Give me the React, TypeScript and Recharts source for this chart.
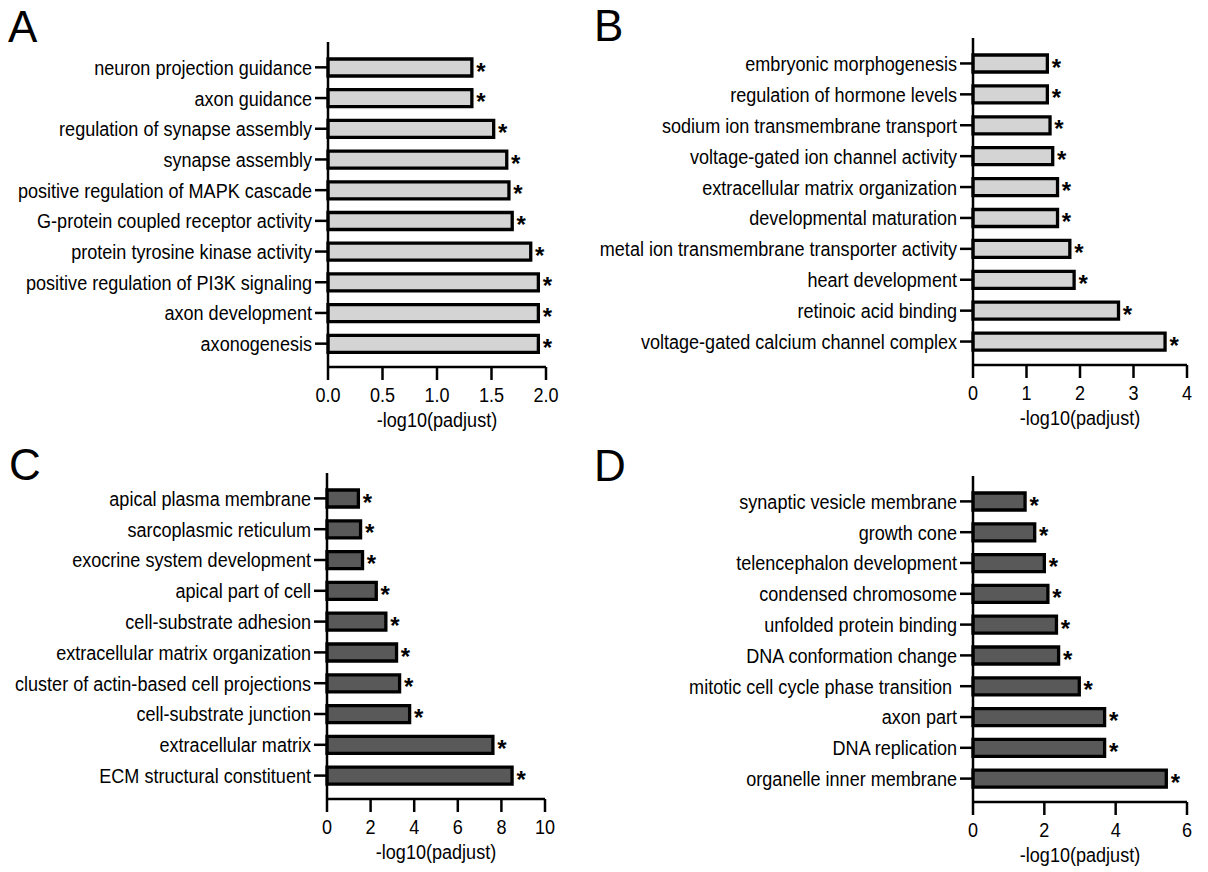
import React from "react";
import { BarChart, Bar, XAxis, YAxis, LabelList, Label } from "recharts";

const FONT = "'Liberation Sans', Arial, sans-serif";
const FONT_SIZE = 21;
const SQUEEZE = 0.86;

// Panel A - light bars
const termsA = [
  "neuron projection guidance",
  "axon guidance",
  "regulation of synapse assembly",
  "synapse assembly",
  "positive regulation of MAPK cascade",
  "G-protein coupled receptor activity",
  "protein tyrosine kinase activity",
  "positive regulation of PI3K signaling",
  "axon development",
  "axonogenesis",
];
const valuesA = [1.32, 1.32, 1.52, 1.64, 1.66, 1.69, 1.86, 1.93, 1.93, 1.93];
const ticksA = [0, 0.5, 1, 1.5, 2];

// Panel B - light bars
const termsB = [
  "embryonic morphogenesis",
  "regulation of hormone levels",
  "sodium ion transmembrane transport",
  "voltage-gated ion channel activity",
  "extracellular matrix organization",
  "developmental maturation",
  "metal ion transmembrane transporter activity",
  "heart development",
  "retinoic acid binding",
  "voltage-gated calcium channel complex",
];
const valuesB = [1.39, 1.39, 1.44, 1.49, 1.58, 1.58, 1.81, 1.89, 2.72, 3.59];
const ticksB = [0, 1, 2, 3, 4];

// Panel C - dark bars
const termsC = [
  "apical plasma membrane",
  "sarcoplasmic reticulum",
  "exocrine system development",
  "apical part of cell",
  "cell-substrate adhesion",
  "extracellular matrix organization",
  "cluster of actin-based cell projections",
  "cell-substrate junction",
  "extracellular matrix",
  "ECM structural constituent",
];
const valuesC = [1.44, 1.54, 1.63, 2.26, 2.7, 3.19, 3.33, 3.79, 7.61, 8.49];
const ticksC = [0, 2, 4, 6, 8, 10];

// Panel D - dark bars
const termsD = [
  "synaptic vesicle membrane",
  "growth cone",
  "telencephalon development",
  "condensed chromosome",
  "unfolded protein binding",
  "DNA conformation change",
  "mitotic cell cycle phase transition ",
  "axon part",
  "DNA replication",
  "organelle inner membrane",
];
const valuesD = [1.46, 1.73, 2.0, 2.1, 2.34, 2.4, 2.98, 3.69, 3.69, 5.42];
const ticksD = [0, 2, 4, 6];

const LIGHT = "#d4d4d4";
const DARK = "#595959";

type PanelProps = {
  terms: string[];
  values: number[];
  ticks: number[];
  decimals: number;
  fill: string;
  left: number;
  top: number;
  width: number;
  marginTop: number;
  yAxisWidth: number;
  plotWidth: number;
  plotHeight: number;
};

// narrow-looking Arial text, like the original figure
const NarrowText = ({ x, y, dy, anchor, children }: any) => (
  <text
    transform={`translate(${x} ${y}) scale(${SQUEEZE} 1)`}
    x={0}
    y={0}
    dy={dy}
    textAnchor={anchor}
    fontSize={FONT_SIZE}
    fontFamily={FONT}
    fill="#000"
    style={{ whiteSpace: "pre" }}
  >
    {children}
  </text>
);

const CategoryTick = (props: any) => {
  const { x, y, payload } = props;
  return (
    <NarrowText x={x} y={y} dy="0.355em" anchor="end">
      {payload.value}
    </NarrowText>
  );
};

const makeValueTick = (decimals: number) => (props: any) => {
  const { x, y, payload } = props;
  return (
    <NarrowText x={x} y={y} dy="0.71em" anchor="middle">
      {Number(payload.value).toFixed(decimals)}
    </NarrowText>
  );
};

const Star = (props: any) => {
  const { x, y, width, height } = props;
  return (
    <text
      x={Number(x) + Number(width) + 9}
      y={Number(y) + Number(height) / 2 + 12}
      textAnchor="middle"
      fontSize={24}
      fontWeight="bold"
      fontFamily={FONT}
      fill="#000"
    >
      *
    </text>
  );
};

const Panel = (p: PanelProps) => {
  const data = p.terms.map((term, i) => ({ term, value: p.values[i] }));
  const xAxisHeight = 72;
  const height = p.marginTop + p.plotHeight + xAxisHeight;
  const rightMargin = p.width - p.yAxisWidth - p.plotWidth;
  const ValueTick = makeValueTick(p.decimals);
  return (
    <div style={{ position: "absolute", left: p.left, top: p.top }}>
      <BarChart
        width={p.width}
        height={height}
        data={data}
        layout="vertical"
        margin={{ top: p.marginTop, right: rightMargin, bottom: 0, left: 0 }}
      >
        <XAxis
          type="number"
          domain={[p.ticks[0], p.ticks[p.ticks.length - 1]]}
          ticks={p.ticks}
          interval={0}
          height={xAxisHeight}
          tick={<ValueTick />}
          tickSize={13}
          tickMargin={7}
          axisLine={{ stroke: "#000", strokeWidth: 2.5 }}
          tickLine={{ stroke: "#000", strokeWidth: 2.5 }}
        >
          <Label
            content={(lp: any) => {
              const vb = lp.viewBox || {};
              return (
                <NarrowText x={vb.x + vb.width / 2} y={vb.y + 60} anchor="middle">
                  -log10(padjust)
                </NarrowText>
              );
            }}
          />
        </XAxis>
        <YAxis
          type="category"
          dataKey="term"
          width={p.yAxisWidth}
          padding={{ top: 10, bottom: 8 }}
          interval={0}
          tick={<CategoryTick />}
          tickSize={13}
          tickMargin={3}
          axisLine={{ stroke: "#000", strokeWidth: 2.5 }}
          tickLine={{ stroke: "#000", strokeWidth: 2.5 }}
        />
        <Bar
          dataKey="value"
          fill={p.fill}
          stroke="#000"
          strokeWidth={3.3}
          barSize={17}
          isAnimationActive={false}
        >
          <LabelList dataKey="value" content={<Star />} />
        </Bar>
      </BarChart>
    </div>
  );
};

export default function App() {
  return (
    <div
      style={{
        position: "absolute",
        left: 0,
        top: 0,
        width: 1208,
        height: 872,
        background: "#fff",
        fontFamily: FONT,
      }}
    >
      <Panel
        terms={termsA}
        values={valuesA}
        ticks={ticksA}
        decimals={1}
        fill={LIGHT}
        left={0}
        top={0}
        width={600}
        marginTop={42}
        yAxisWidth={328}
        plotWidth={218}
        plotHeight={325}
      />
      <Panel
        terms={termsB}
        values={valuesB}
        ticks={ticksB}
        decimals={0}
        fill={LIGHT}
        left={580}
        top={0}
        width={628}
        marginTop={38}
        yAxisWidth={393}
        plotWidth={214}
        plotHeight={327}
      />
      <Panel
        terms={termsC}
        values={valuesC}
        ticks={ticksC}
        decimals={0}
        fill={DARK}
        left={0}
        top={440}
        width={580}
        marginTop={33}
        yAxisWidth={327}
        plotWidth={218}
        plotHeight={326}
      />
      <Panel
        terms={termsD}
        values={valuesD}
        ticks={ticksD}
        decimals={0}
        fill={DARK}
        left={580}
        top={440}
        width={628}
        marginTop={36}
        yAxisWidth={393}
        plotWidth={214}
        plotHeight={326}
      />
      <svg
        width={1208}
        height={872}
        style={{ position: "absolute", left: 0, top: 0, pointerEvents: "none" }}
      >
        <g fontFamily={FONT} fontSize={44} fill="#000">
          <text x={8} y={42}>A</text>
          <text x={594} y={41}>B</text>
          <text x={9} y={480}>C</text>
          <text x={594} y={481}>D</text>
        </g>
      </svg>
    </div>
  );
}
